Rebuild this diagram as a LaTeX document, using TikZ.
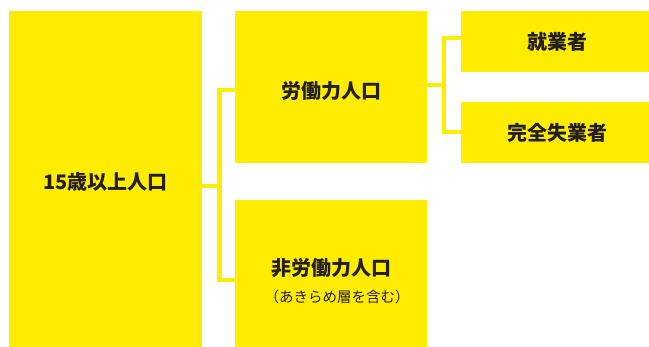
\documentclass[tikz,border=0pt]{standalone}
\usepackage{fontspec}
\newfontfamily\jp{Noto Sans CJK JP}
\definecolor{ylw}{RGB}{255,237,0}
\definecolor{ink}{RGB}{35,31,32}
\begin{document}
\begin{tikzpicture}[x=1pt,y=-1pt,
  box/.style={fill=ylw,draw=none,inner sep=0pt,anchor=north west},
  lbl/.style={text=ink,font=\jp\bfseries\fontsize{20}{23}\selectfont,inner sep=0pt},
  sub/.style={text=ink,font=\jp\fontsize{14.5}{17}\selectfont,inner sep=0pt},
  conn/.style={draw=ylw,line width=4.8pt,line join=miter}]
\useasboundingbox (0,0) rectangle (649,347);
% boxes
\node[box,minimum width=193pt,minimum height=336pt] (L) at (9,11) {};
\node[box,minimum width=192pt,minimum height=152pt] (MT) at (235,11) {};
\node[box,minimum width=192pt,minimum height=147pt] (MB) at (235,200) {};
\node[box,minimum width=188pt,minimum height=61pt] (RT) at (461,11) {};
\node[box,minimum width=188pt,minimum height=61pt] (RB) at (461,102) {};
% labels
\node[lbl] (tL) at (105.5,182) {15歳以上人口};
\node[lbl] (tMT) at (331,91) {労働力人口};
\node[lbl] (tMB) at (331,268.5) {非労働力人口};
\node[sub] (tMBs) at (337,296.5) {（あきらめ層を含む）};
\node[lbl] (tRT) at (557,42) {就業者};
\node[lbl] (tRB) at (557,133) {完全失業者};
% connector junctions
\coordinate (j1) at (219.5,186);
\coordinate (a1) at (235,90);
\coordinate (b1) at (235,280);
\coordinate (j2) at (444,85);
\coordinate (a2) at (461,38);
\coordinate (b2) at (461,132);
\draw[conn] (j1 -| L.east) -- (j1);
\draw[conn] (a1) -| (j1) |- (b1);
\draw[conn] (j2 -| MT.east) -- (j2);
\draw[conn] (a2) -| (j2) |- (b2);
\end{tikzpicture}
\end{document}
